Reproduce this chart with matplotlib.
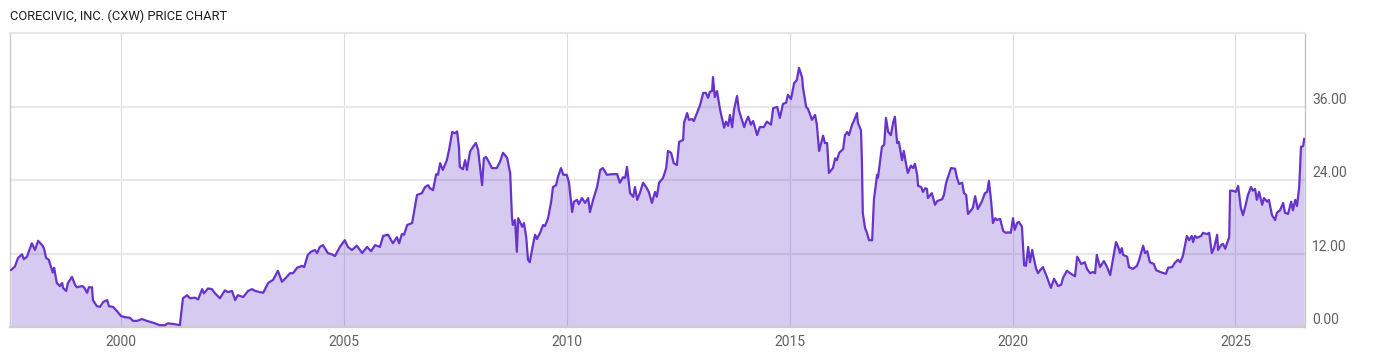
import matplotlib
matplotlib.use("Agg")
import matplotlib.pyplot as plt
from matplotlib import font_manager

title = "CORECIVIC, INC. (CXW) PRICE CHART"

years = [
    1997.53, 1997.62, 1997.69, 1997.78, 1997.82, 1997.89, 1998.00, 1998.07, 1998.14, 1998.23,
    1998.27, 1998.32, 1998.38, 1998.47, 1998.50, 1998.56, 1998.63, 1998.68, 1998.70, 1998.77,
    1998.81, 1998.90, 1998.97, 1999.01, 1999.13, 1999.17, 1999.24, 1999.28, 1999.35, 1999.37,
    1999.46, 1999.53, 1999.60, 1999.69, 1999.73, 1999.82, 1999.91, 2000.00, 2000.09, 2000.20,
    2000.27, 2000.36, 2000.47, 2000.58, 2000.72, 2000.87, 2000.99, 2001.05, 2001.17, 2001.32,
    2001.39, 2001.48, 2001.55, 2001.66, 2001.73, 2001.82, 2001.86, 2001.95, 2002.04, 2002.11,
    2002.22, 2002.33, 2002.40, 2002.49, 2002.56, 2002.62, 2002.74, 2002.85, 2002.94, 2003.01,
    2003.12, 2003.19, 2003.30, 2003.41, 2003.52, 2003.61, 2003.72, 2003.79, 2003.86, 2003.95,
    2004.06, 2004.11, 2004.19, 2004.26, 2004.35, 2004.40, 2004.46, 2004.53, 2004.64, 2004.73,
    2004.80, 2004.91, 2005.02, 2005.09, 2005.18, 2005.29, 2005.41, 2005.52, 2005.61, 2005.70,
    2005.81, 2005.88, 2005.99, 2006.10, 2006.19, 2006.24, 2006.30, 2006.35, 2006.42, 2006.53,
    2006.57, 2006.64, 2006.75, 2006.82, 2006.89, 2006.93, 2007.00, 2007.07, 2007.11, 2007.16,
    2007.22, 2007.31, 2007.36, 2007.43, 2007.49, 2007.54, 2007.58, 2007.60, 2007.67, 2007.72,
    2007.76, 2007.83, 2007.90, 2007.96, 2008.01, 2008.10, 2008.14, 2008.19, 2008.23, 2008.32,
    2008.43, 2008.50, 2008.57, 2008.66, 2008.73, 2008.77, 2008.79, 2008.84, 2008.88, 2008.91,
    2009.00, 2009.04, 2009.09, 2009.13, 2009.17, 2009.24, 2009.29, 2009.33, 2009.40, 2009.47,
    2009.51, 2009.58, 2009.65, 2009.69, 2009.76, 2009.80, 2009.87, 2009.92, 2010.00, 2010.05,
    2010.12, 2010.16, 2010.23, 2010.27, 2010.34, 2010.41, 2010.48, 2010.52, 2010.59, 2010.68,
    2010.75, 2010.81, 2010.90, 2011.01, 2011.13, 2011.19, 2011.26, 2011.31, 2011.35, 2011.42,
    2011.49, 2011.53, 2011.58, 2011.64, 2011.71, 2011.78, 2011.84, 2011.91, 2011.98, 2012.02,
    2012.07, 2012.16, 2012.23, 2012.27, 2012.34, 2012.40, 2012.47, 2012.52, 2012.61, 2012.63,
    2012.70, 2012.74, 2012.81, 2012.85, 2012.92, 2012.99, 2013.06, 2013.12, 2013.17, 2013.21,
    2013.26, 2013.28, 2013.32, 2013.37, 2013.44, 2013.53, 2013.57, 2013.62, 2013.66, 2013.71,
    2013.75, 2013.82, 2013.86, 2013.93, 2013.98, 2014.02, 2014.07, 2014.13, 2014.18, 2014.27,
    2014.33, 2014.42, 2014.49, 2014.58, 2014.63, 2014.72, 2014.78, 2014.85, 2014.92, 2014.96,
    2015.03, 2015.10, 2015.16, 2015.21, 2015.28, 2015.30, 2015.37, 2015.41, 2015.50, 2015.57,
    2015.61, 2015.66, 2015.75, 2015.79, 2015.84, 2015.88, 2015.97, 2016.02, 2016.06, 2016.11,
    2016.20, 2016.24, 2016.29, 2016.33, 2016.40, 2016.44, 2016.51, 2016.53, 2016.60, 2016.62,
    2016.64, 2016.69, 2016.73, 2016.78, 2016.85, 2016.89, 2016.96, 2016.98, 2017.07, 2017.12,
    2017.16, 2017.21, 2017.27, 2017.32, 2017.36, 2017.41, 2017.45, 2017.52, 2017.56, 2017.61,
    2017.65, 2017.72, 2017.77, 2017.81, 2017.86, 2017.88, 2017.95, 2017.99, 2018.04, 2018.08,
    2018.10, 2018.19, 2018.26, 2018.31, 2018.42, 2018.46, 2018.51, 2018.55, 2018.62, 2018.71,
    2018.75, 2018.80, 2018.87, 2018.91, 2018.96, 2019.00, 2019.07, 2019.11, 2019.16, 2019.22,
    2019.31, 2019.38, 2019.43, 2019.47, 2019.52, 2019.56, 2019.61, 2019.65, 2019.72, 2019.79,
    2019.85, 2019.90, 2019.96, 2020.01, 2020.05, 2020.10, 2020.14, 2020.21, 2020.26, 2020.30,
    2020.35, 2020.39, 2020.44, 2020.46, 2020.53, 2020.57, 2020.62, 2020.68, 2020.77, 2020.86,
    2020.93, 2021.02, 2021.09, 2021.13, 2021.22, 2021.31, 2021.40, 2021.45, 2021.54, 2021.62,
    2021.67, 2021.74, 2021.80, 2021.85, 2021.89, 2021.96, 2022.05, 2022.12, 2022.19, 2022.25,
    2022.32, 2022.37, 2022.41, 2022.45, 2022.48, 2022.57, 2022.61, 2022.70, 2022.79, 2022.84,
    2022.93, 2022.97, 2023.02, 2023.08, 2023.17, 2023.22, 2023.31, 2023.40, 2023.44, 2023.49,
    2023.58, 2023.64, 2023.71, 2023.76, 2023.82, 2023.87, 2023.91, 2023.96, 2024.02, 2024.05,
    2024.09, 2024.14, 2024.23, 2024.27, 2024.36, 2024.41, 2024.47, 2024.52, 2024.59, 2024.61,
    2024.68, 2024.72, 2024.77, 2024.81, 2024.86, 2024.88, 2024.94, 2025.01, 2025.06, 2025.12,
    2025.17, 2025.24, 2025.28, 2025.35, 2025.39, 2025.44, 2025.48, 2025.53, 2025.60, 2025.64,
    2025.71, 2025.75, 2025.82, 2025.89, 2025.93, 2026.00, 2026.07, 2026.11, 2026.18, 2026.25,
    2026.29, 2026.34, 2026.38, 2026.43, 2026.47, 2026.52, 2026.54,
]

prices = [
    9.3, 9.9, 11.3, 11.9, 11.1, 11.5, 13.7, 12.6, 14.1, 13.4,
    12.9, 11.3, 11.0, 8.9, 9.7, 7.2, 6.7, 7.2, 6.4, 5.9,
    7.2, 8.2, 6.9, 6.5, 6.7, 6.5, 5.6, 6.5, 6.5, 4.4,
    3.4, 3.3, 4.1, 4.4, 3.4, 3.3, 2.6, 1.8, 1.6, 1.5,
    1.0, 1.0, 1.3, 1.0, 0.7, 0.3, 0.3, 0.6, 0.5, 0.3,
    4.7, 5.2, 4.7, 4.8, 4.5, 6.2, 5.5, 6.3, 6.2, 5.5,
    4.7, 6.0, 5.7, 5.9, 4.4, 5.2, 4.9, 5.9, 6.2, 5.9,
    5.7, 5.6, 7.2, 7.7, 9.2, 7.4, 8.2, 8.8, 8.8, 9.7,
    10.0, 9.8, 11.8, 12.3, 12.6, 12.1, 13.1, 13.4, 12.1, 11.9,
    11.6, 13.1, 14.2, 13.1, 12.6, 13.3, 12.1, 13.1, 12.4, 13.4,
    13.1, 14.9, 15.1, 13.7, 14.7, 13.7, 15.2, 15.1, 16.7, 17.0,
    18.7, 21.6, 21.9, 22.9, 23.2, 22.7, 22.4, 25.0, 24.9, 26.8,
    25.7, 27.3, 29.0, 31.9, 31.7, 32.0, 29.5, 26.2, 25.8, 27.3,
    25.7, 28.7, 29.5, 30.1, 29.0, 23.2, 27.6, 27.8, 27.3, 26.0,
    26.0, 27.0, 28.5, 27.7, 25.2, 18.0, 16.7, 17.5, 12.3, 17.8,
    16.4, 17.0, 14.7, 11.0, 10.6, 13.4, 15.1, 14.4, 15.4, 16.7,
    16.5, 17.8, 20.5, 22.9, 23.2, 24.5, 26.0, 24.9, 24.9, 23.6,
    18.8, 20.5, 20.8, 20.1, 21.1, 20.3, 21.1, 18.8, 20.8, 22.9,
    25.7, 26.0, 24.9, 25.0, 25.0, 23.6, 24.5, 24.4, 26.2, 21.9,
    21.3, 22.9, 20.8, 21.9, 23.6, 22.9, 22.1, 20.3, 22.1, 21.3,
    23.6, 24.4, 26.0, 28.8, 28.5, 26.8, 26.5, 30.3, 30.6, 33.4,
    35.0, 33.9, 34.0, 33.7, 35.0, 36.3, 38.3, 38.3, 37.5, 38.5,
    38.6, 40.9, 37.6, 38.6, 35.5, 32.6, 33.6, 32.9, 34.7, 32.7,
    35.5, 37.8, 35.5, 33.9, 32.7, 33.6, 34.4, 33.1, 33.7, 31.4,
    32.7, 32.7, 33.6, 33.1, 35.8, 36.0, 34.2, 36.5, 36.7, 38.0,
    37.3, 39.9, 40.4, 42.4, 40.8, 39.1, 36.0, 35.7, 33.9, 34.7,
    33.1, 28.8, 31.3, 30.1, 30.1, 25.2, 26.0, 27.6, 27.3, 28.5,
    29.1, 31.4, 31.9, 31.4, 33.1, 33.7, 35.0, 33.4, 32.2, 27.3,
    18.7, 16.2, 15.5, 14.2, 14.2, 20.8, 24.9, 24.4, 29.5, 29.8,
    34.2, 31.9, 31.4, 33.4, 34.4, 30.1, 30.3, 27.3, 28.8, 26.7,
    25.2, 26.4, 26.0, 26.7, 24.9, 23.1, 22.9, 22.1, 22.7, 22.6,
    21.1, 21.9, 20.0, 20.6, 20.9, 21.6, 23.6, 24.5, 26.0, 25.9,
    24.5, 23.4, 23.6, 21.9, 21.6, 18.5, 19.1, 19.5, 21.4, 19.3,
    20.5, 21.9, 22.1, 23.9, 20.5, 17.0, 17.8, 17.5, 17.7, 15.7,
    15.4, 15.5, 15.4, 17.8, 15.9, 17.0, 17.2, 16.4, 10.1, 10.0,
    13.1, 10.6, 12.6, 11.8, 9.5, 8.8, 9.3, 9.8, 8.2, 6.4,
    7.9, 6.7, 6.9, 8.0, 9.2, 8.7, 8.3, 11.5, 10.3, 10.6,
    9.5, 8.8, 9.0, 8.8, 11.8, 9.8, 10.8, 9.8, 8.5, 11.0,
    13.9, 13.1, 12.1, 12.9, 11.8, 11.5, 9.8, 9.5, 10.0, 11.0,
    13.3, 12.1, 12.4, 10.6, 10.3, 9.3, 9.0, 8.8, 8.7, 9.7,
    9.8, 10.5, 11.0, 10.6, 11.6, 13.4, 14.9, 14.2, 14.9, 13.9,
    14.9, 14.6, 14.9, 15.4, 15.2, 15.4, 12.1, 12.9, 15.1, 12.6,
    13.4, 13.6, 12.8, 13.7, 14.7, 22.3, 22.3, 22.1, 23.1, 19.5,
    18.3, 20.3, 21.6, 22.9, 22.3, 22.6, 20.8, 22.1, 20.0, 21.1,
    20.5, 20.8, 18.3, 17.5, 18.7, 19.1, 20.3, 18.7, 18.5, 20.5,
    19.1, 20.8, 19.8, 22.9, 29.5, 29.6, 30.8,
]

x_ticks = [2000, 2005, 2010, 2015, 2020, 2025]
y_ticks = [0, 12, 24, 36]

plt.rcParams['font.family'] = ['Roboto', 'DejaVu Sans']

installed = {f.name for f in font_manager.fontManager.ttflist}
title_family = ['Liberation Sans Narrow', 'Roboto', 'DejaVu Sans'] \
    if 'Liberation Sans Narrow' in installed else ['Roboto', 'DejaVu Sans']
title_size = 10.5 if 'Liberation Sans Narrow' in installed else 9.3

W, H = 1400, 357
fig = plt.figure(figsize=(W / 100, H / 100), dpi=100)
fig.patch.set_facecolor('white')
ax = fig.add_axes([10 / W, 1 - 327 / H, 1295 / W, 294 / H])

line_color = '#6633cc'
ax.fill_between(years, prices, 0, color=line_color, alpha=0.26, lw=0, zorder=2)
ax.plot(years, prices, color=line_color, lw=1.6, zorder=3,
        solid_joinstyle='round', solid_capstyle='round')

ax.set_xlim(1997.51, 2026.56)
ax.set_ylim(0, 48.1)

ax.set_xticks(x_ticks)
ax.set_xticklabels([str(v) for v in x_ticks])
ax.set_yticks(y_ticks)
ax.set_yticklabels([f"{v:.2f}" for v in y_ticks])
ax.yaxis.tick_right()
ax.tick_params(axis='both', length=0, labelsize=10, labelcolor='#606060')
ax.tick_params(axis='y', pad=5)
ax.tick_params(axis='x', pad=6)
for lab in ax.get_yticklabels():
    lab.set_verticalalignment('bottom')

ax.set_axisbelow(True)
ax.grid(axis='y', color='#e8e8e8', lw=1.6)
ax.grid(axis='x', color='#dcdcdc', lw=0.8)

ax.spines['left'].set_color('#cccccc')
ax.spines['left'].set_linewidth(1.0)
ax.spines['bottom'].set_color('#cccccc')
ax.spines['bottom'].set_linewidth(1.6)
ax.spines['right'].set_color('#c4c4c4')
ax.spines['right'].set_linewidth(1.0)
ax.spines['top'].set_color('#e6e6e6')
ax.spines['top'].set_linewidth(1.6)

fig.text(10 / W, 1 - 16 / H, title, ha='left', va='center',
         fontsize=title_size, color='#1e1e1e', family=title_family)

fig.savefig('out.png', dpi=100)
